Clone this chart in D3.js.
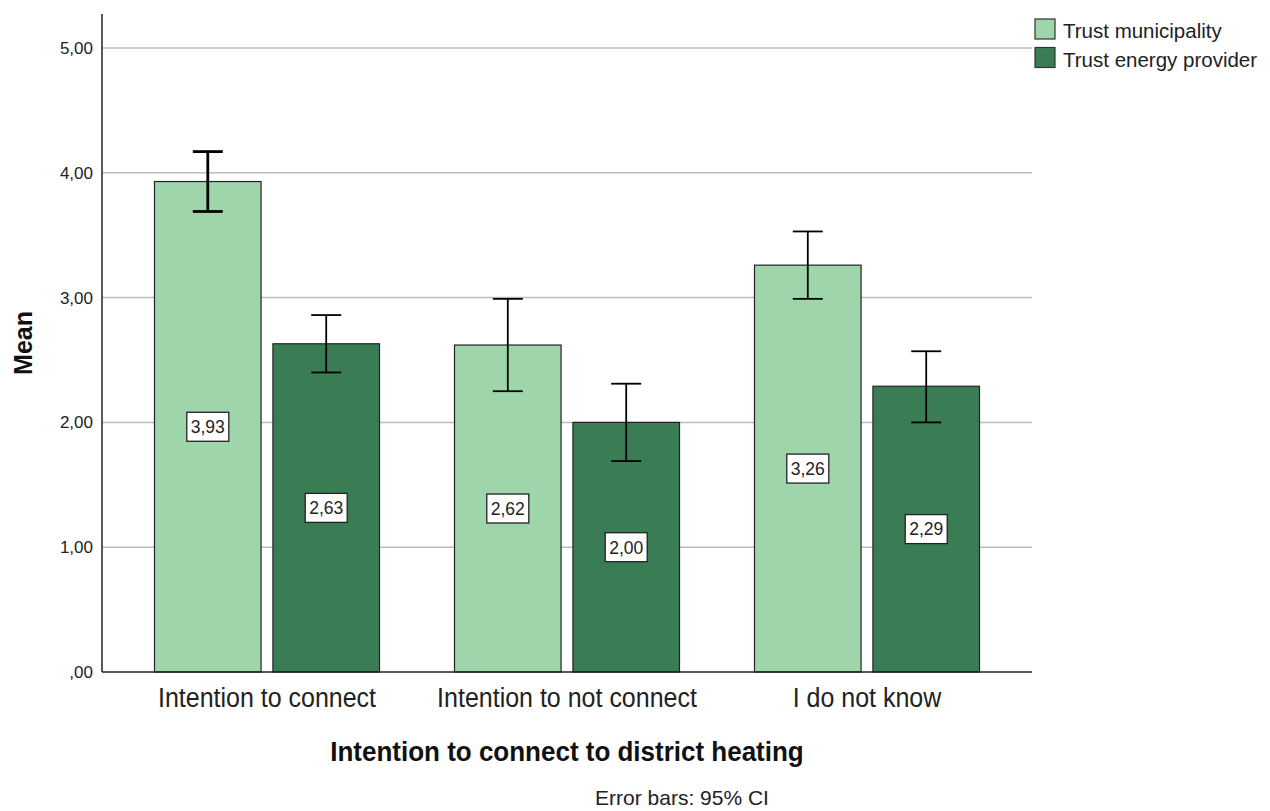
<!DOCTYPE html>
<html>
<head>
<meta charset="utf-8">
<script src="https://cdn.jsdelivr.net/npm/d3@7"></script>
<style>
  html, body { margin: 0; padding: 0; background: #fff; }
  svg { display: block; font-family: "Liberation Sans", Arial, sans-serif; }
</style>
</head>
<body>
<svg id="chart" width="1270" height="811"></svg>
<script>
// Categories on the x axis and the two series shown per category
const categories = ["Intention to connect", "Intention to not connect", "I do not know"];
const seriesNames = ["Trust municipality", "Trust energy provider"];

// Means and 95% confidence limits per series (same order as categories)
const municipalityMean = [3.93, 2.62, 3.26];
const municipalityLow  = [3.69, 2.25, 2.99];
const municipalityHigh = [4.17, 2.99, 3.53];
const providerMean = [2.63, 2.00, 2.29];
const providerLow  = [2.40, 1.69, 2.00];
const providerHigh = [2.86, 2.31, 2.57];

const yTicks = [0, 1, 2, 3, 4, 5];
const seriesColors = ["#9fd5ab", "#3a7d55"];

const svg = d3.select("#chart");
const fmt = v => d3.format(".2f")(v).replace(".", ",").replace(/^0/, "");

const plot = { left: 102, right: 1032, top: 14, bottom: 672 };

const y = d3.scaleLinear().domain([0, 5]).range([plot.bottom, 48]);
const x0 = d3.scaleBand().domain(categories).range([117, 1017])
  .paddingInner(0.25).paddingOuter(0.125);
const x1 = d3.scaleBand().domain(seriesNames).range([0, x0.bandwidth()]).paddingInner(0.1);

const rows = [];
categories.forEach((c, i) => {
  rows.push({ cat: c, series: seriesNames[0], mean: municipalityMean[i], lo: municipalityLow[i], hi: municipalityHigh[i] });
  rows.push({ cat: c, series: seriesNames[1], mean: providerMean[i], lo: providerLow[i], hi: providerHigh[i] });
});

// Gridlines
svg.append("g").selectAll("line").data(yTicks.filter(d => d > 0)).join("line")
  .attr("x1", plot.left).attr("x2", plot.right)
  .attr("y1", d => y(d)).attr("y2", d => y(d))
  .attr("stroke", "#bdbdbd").attr("stroke-width", 1.5);

// Y axis
const yAxis = svg.append("g").attr("transform", `translate(${plot.left},0)`)
  .call(d3.axisLeft(y).tickValues(yTicks).tickFormat(fmt).tickSize(0).tickPadding(9));
yAxis.select(".domain").remove();
yAxis.selectAll("text").attr("font-size", 17).attr("fill", "#222")
  .attr("font-family", "'Liberation Sans', Arial, sans-serif");
svg.append("line").attr("x1", plot.left).attr("x2", plot.left)
  .attr("y1", plot.top).attr("y2", plot.bottom)
  .attr("stroke", "#222").attr("stroke-width", 1.5);

// Bars
const barG = svg.append("g");
barG.selectAll("rect").data(rows).join("rect")
  .attr("x", d => x0(d.cat) + x1(d.series))
  .attr("y", d => y(d.mean))
  .attr("width", x1.bandwidth())
  .attr("height", d => y(0) - y(d.mean))
  .attr("fill", d => seriesColors[seriesNames.indexOf(d.series)])
  .attr("stroke", "#222").attr("stroke-width", 1.2);

// X axis: category labels drawn at the band centres, slightly tall type
const xAxis = svg.append("g").attr("transform", `translate(0,${plot.bottom})`)
  .call(d3.axisBottom(x0).tickSize(0).tickFormat(""));
xAxis.select(".domain").remove();
xAxis.selectAll(".tick").append("text")
  .attr("transform", "translate(0,35) scale(1,1.1)")
  .attr("text-anchor", "middle").attr("font-size", 25).attr("fill", "#222")
  .attr("font-family", "'Liberation Sans', Arial, sans-serif")
  .text(d => d);
svg.append("line").attr("x1", plot.left).attr("x2", plot.right)
  .attr("y1", plot.bottom).attr("y2", plot.bottom)
  .attr("stroke", "#222").attr("stroke-width", 1.5);

// Error bars (95% CI)
const capHalf = 15;
const errG = svg.append("g").attr("stroke", "#000");
rows.forEach((d, i) => {
  const cx = x0(d.cat) + x1(d.series) + x1.bandwidth() / 2;
  const w = i === 0 ? 2.8 : 1.8;
  const g = errG.append("g").attr("stroke-width", w);
  g.append("line").attr("x1", cx).attr("x2", cx).attr("y1", y(d.hi)).attr("y2", y(d.lo));
  g.append("line").attr("x1", cx - capHalf).attr("x2", cx + capHalf).attr("y1", y(d.hi)).attr("y2", y(d.hi));
  g.append("line").attr("x1", cx - capHalf).attr("x2", cx + capHalf).attr("y1", y(d.lo)).attr("y2", y(d.lo));
});

// Value labels, centred at half the bar height
const lab = svg.append("g").selectAll("g").data(rows).join("g")
  .attr("transform", d => `translate(${x0(d.cat) + x1(d.series) + x1.bandwidth() / 2},${y(d.mean / 2)})`);
lab.append("rect").attr("x", -21).attr("y", -14.5).attr("width", 42).attr("height", 29)
  .attr("fill", "#fff").attr("stroke", "#222").attr("stroke-width", 1.3);
lab.append("text").attr("text-anchor", "middle").attr("dy", "0.36em")
  .attr("font-size", 17.5).attr("fill", "#222").text(d => fmt(d.mean));

// Axis titles
svg.append("text").attr("transform", "translate(567,761) scale(1,1.05)").attr("text-anchor", "middle")
  .attr("font-size", 26).attr("font-weight", "bold").attr("fill", "#111")
  .text("Intention to connect to district heating");
svg.append("text").attr("transform", "translate(32,343) rotate(-90) scale(1,1.05)")
  .attr("text-anchor", "middle").attr("font-size", 25).attr("font-weight", "bold").attr("fill", "#111")
  .text("Mean");
svg.append("text").attr("x", 682).attr("y", 805).attr("text-anchor", "middle")
  .attr("font-size", 21).attr("fill", "#222").text("Error bars: 95% CI");

// Legend
const leg = svg.append("g").selectAll("g").data(seriesNames).join("g")
  .attr("transform", (d, i) => `translate(1035,${19 + i * 28.5})`);
leg.append("rect").attr("width", 20).attr("height", 20)
  .attr("fill", (d, i) => seriesColors[i]).attr("stroke", "#333").attr("stroke-width", 1.2);
leg.append("text").attr("x", 28).attr("y", 19).attr("font-size", 20.5).attr("fill", "#222")
  .text(d => d);
</script>
</body>
</html>
